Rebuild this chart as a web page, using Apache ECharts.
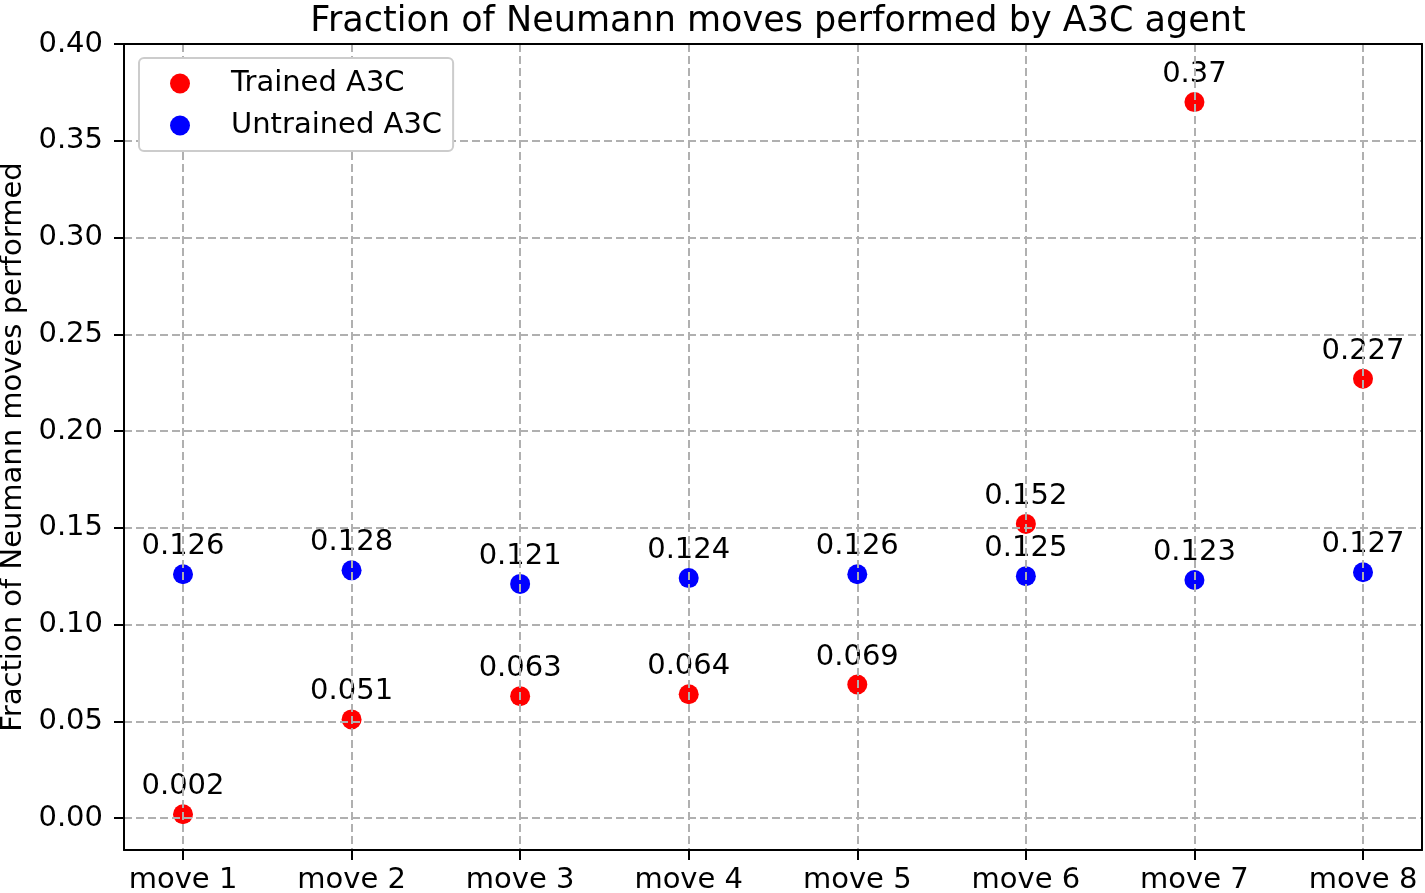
<!DOCTYPE html>
<html>
<head>
<meta charset="utf-8">
<title>Fraction of Neumann moves</title>
<script src="https://cdn.jsdelivr.net/npm/echarts@6/dist/echarts.min.js"></script>
<style>
  html, body { margin: 0; padding: 0; background: #fff; }
  #neumann-moves { width: 1425px; height: 893px; }
</style>
</head>
<body>
<div id="neumann-moves"></div>
<script>
  var moves = ['move 1', 'move 2', 'move 3', 'move 4', 'move 5', 'move 6', 'move 7', 'move 8'];
  var trainedValues = [0.002, 0.051, 0.063, 0.064, 0.069, 0.152, 0.37, 0.227];
  var untrainedValues = [0.126, 0.128, 0.121, 0.124, 0.126, 0.125, 0.123, 0.127];
  var yTicks = [0, 0.05, 0.10, 0.15, 0.20, 0.25, 0.30, 0.35, 0.40];
  var xTicks = [0, 1, 2, 3, 4, 5, 6, 7];

  var font = 'DejaVu Sans';
  var xRange = [-0.35, 7.35];
  var yRange = [-0.0165, 0.40];

  function toPoints(values) {
    return values.map(function (v, i) { return [i, v]; });
  }

  var gridLine = {
    show: true,
    lineStyle: { color: '#b0b0b0', width: 2, type: [8, 4] }
  };

  var blackLine = { show: true, onZero: false, lineStyle: { color: '#000', width: 2 } };

  function scatterSeries(name, color, values) {
    return {
      name: name,
      type: 'scatter',
      symbol: 'circle',
      symbolSize: 20,
      z: 2,
      itemStyle: { color: color, opacity: 1 },
      label: {
        show: true,
        position: 'top',
        distance: 3,
        color: '#000',
        fontFamily: font,
        fontSize: 29,
        formatter: function (p) { return String(p.value[1]); }
      },
      emphasis: { disabled: true },
      data: toPoints(values)
    };
  }

  // plain frame axes for the top and right edges
  function frameAxis(position) {
    return {
      type: 'value',
      position: position,
      min: position === 'top' ? xRange[0] : yRange[0],
      max: position === 'top' ? xRange[1] : yRange[1],
      z: 4,
      axisLine: blackLine,
      axisTick: { show: false },
      axisLabel: { show: false },
      splitLine: { show: false }
    };
  }

  var chart = echarts.init(document.getElementById('neumann-moves'));

  chart.setOption({
    animation: false,
    backgroundColor: '#fff',
    title: {
      text: 'Fraction of Neumann moves performed by A3C agent',
      left: 773,
      textAlign: 'center',
      top: -1,
      textStyle: { fontFamily: font, fontSize: 35, fontWeight: 'normal', color: '#000' }
    },
    grid: {
      left: 124,
      right: 3,
      top: 44,
      bottom: 43,
      containLabel: false,
      outerBoundsMode: 'none',
      show: false
    },
    legend: {
      orient: 'vertical',
      left: 139,
      top: 58,
      padding: [11, 11, 11, 31],
      itemGap: 13,
      itemWidth: 20,
      itemHeight: 20,
      icon: 'circle',
      backgroundColor: '#fff',
      borderColor: '#cccccc',
      borderWidth: 2,
      borderRadius: 5,
      textStyle: { fontFamily: font, fontSize: 29, color: '#000', padding: [0, 0, 0, 36] },
      data: ['Trained A3C', 'Untrained A3C']
    },
    xAxis: [{
      type: 'value',
      min: xRange[0],
      max: xRange[1],
      z: 3,
      axisLine: blackLine,
      axisTick: { show: true, length: 10, customValues: xTicks, lineStyle: { color: '#000', width: 2 } },
      axisLabel: {
        customValues: xTicks,
        margin: 16,
        color: '#000',
        fontFamily: font,
        fontSize: 29,
        formatter: function (v) { return moves[Math.round(v)] || ''; }
      },
      splitLine: gridLine
    }, frameAxis('top')],
    yAxis: [{
      type: 'value',
      min: yRange[0],
      max: yRange[1],
      z: 3,
      name: 'Fraction of Neumann moves performed',
      nameLocation: 'middle',
      nameGap: 95,
      nameTextStyle: { fontFamily: font, fontSize: 29, color: '#000' },
      axisLine: blackLine,
      axisTick: { show: true, length: 10, customValues: yTicks, lineStyle: { color: '#000', width: 2 } },
      axisLabel: {
        customValues: yTicks,
        margin: 21,
        color: '#000',
        fontFamily: font,
        fontSize: 29,
        formatter: function (v) { return v.toFixed(2); }
      },
      splitLine: gridLine
    }, frameAxis('right')],
    series: [
      scatterSeries('Trained A3C', '#ff0000', trainedValues),
      scatterSeries('Untrained A3C', '#0000ff', untrainedValues)
    ]
  });

  window.addEventListener('resize', function () {
    chart.resize();
  });
</script>
</body>
</html>
